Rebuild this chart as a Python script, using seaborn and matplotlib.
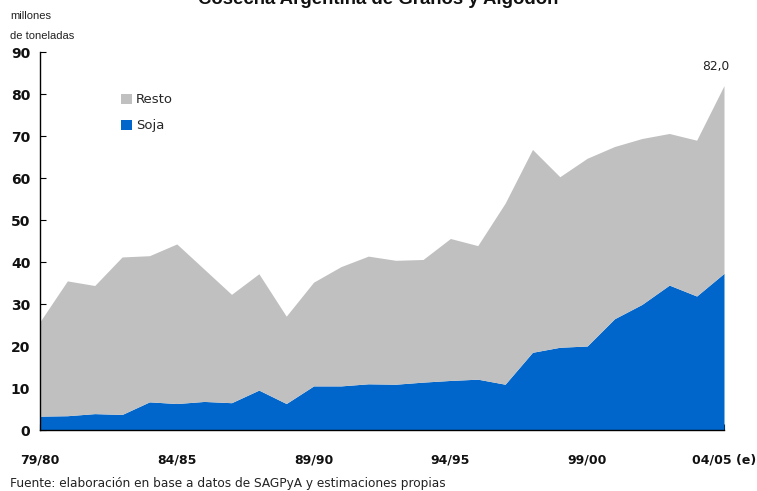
import matplotlib
matplotlib.use("Agg")
import matplotlib.pyplot as plt
from matplotlib.patches import Patch
import seaborn as sns
import pandas as pd

# Argentine harvest, million tonnes per season
seasons = ["79/80", "80/81", "81/82", "82/83", "83/84", "84/85", "85/86", "86/87",
           "87/88", "88/89", "89/90", "90/91", "91/92", "92/93", "93/94", "94/95",
           "95/96", "96/97", "97/98", "98/99", "99/00", "00/01", "01/02", "02/03",
           "03/04", "04/05 (e)"]
total = [25.8, 35.5, 34.4, 41.2, 41.5, 44.3, 38.3, 32.3, 37.2, 27.1, 35.2, 38.9, 41.4,
         40.4, 40.6, 45.6, 43.9, 54.0, 66.8, 60.3, 64.7, 67.5, 69.4, 70.6, 69.0, 82.0]
soja = [3.3, 3.4, 3.9, 3.7, 6.7, 6.3, 6.8, 6.5, 9.5, 6.3, 10.5, 10.5, 11.0, 10.9, 11.4,
        11.8, 12.1, 10.9, 18.5, 19.7, 20.0, 26.5, 29.9, 34.5, 31.9, 37.3]
labelled_seasons = ["79/80", "84/85", "89/90", "94/95", "99/00", "04/05 (e)"]
y_ticks = [0, 10, 20, 30, 40, 50, 60, 70, 80, 90]

df = pd.DataFrame({"campana": seasons, "total": total, "soja": soja})
df["resto"] = df["total"] - df["soja"]
df["pos"] = range(len(df))

sns.set_theme(style="ticks")
plt.rcParams["font.family"] = ["DejaVu Sans"]

blue = "#0066CC"
gray = "#C0C0C0"

fig = plt.figure(figsize=(7.57, 4.91), dpi=100)
ax = fig.add_axes([40 / 757, 1 - 430 / 491, (724 - 40) / 757, (430 - 52) / 491])

ax.stackplot(df["pos"], df["soja"], df["resto"], colors=[blue, gray], linewidth=0)

ax.set_xlim(0, len(df) - 1)
ax.set_ylim(0, 90)
sns.despine(ax=ax)
for side in ("left", "bottom"):
    ax.spines[side].set_color("black")
    ax.spines[side].set_linewidth(1.0)

ax.set_xticks(df["pos"])
ax.set_xticklabels([s if s in labelled_seasons else "" for s in df["campana"]])
ax.set_yticks(y_ticks)
ax.tick_params(axis="x", direction="in", length=4, width=0.8, color="black",
               pad=17, labelsize=9)
ax.tick_params(axis="y", direction="in", length=4, width=0.8, color="black",
               pad=7, labelsize=10)
for lab in ax.get_xticklabels() + ax.get_yticklabels():
    lab.set_fontweight("bold")
    lab.set_color("#111111")
ax.set_xlabel("")
ax.set_ylabel("")

# value of the last season
ax.annotate(f"{df['total'].iloc[-1]:.1f}".replace(".", ","),
            xy=(df["pos"].iloc[-1], df["total"].iloc[-1]),
            xytext=(-6, 9), textcoords="offset points",
            ha="center", va="bottom", fontsize=8.8, color="#222222")

handles = [Patch(facecolor=gray, edgecolor="none", label="Resto"),
           Patch(facecolor=blue, edgecolor="none", label="Soja")]
ax.legend(handles=handles, loc="upper left", bbox_to_anchor=(0.111, 0.905),
          frameon=False, fontsize=9.5, handlelength=0.8, handleheight=0.8,
          handletextpad=0.3, labelspacing=1.0, borderaxespad=0)

fig.text(378 / 757, 1 - 4 / 491, "Cosecha Argentina de Granos y Algodón",
         ha="center", va="baseline", fontsize=13.4, fontweight="bold",
         family=["Liberation Sans"], color="#111111")
fig.text(10 / 757, 1 - 16 / 491, "millones", ha="left", va="center",
         fontsize=8, family=["Liberation Sans"], color="#222222")
fig.text(10 / 757, 1 - 36 / 491, "de toneladas", ha="left", va="center",
         fontsize=8, family=["Liberation Sans"], color="#222222")
fig.text(10 / 757, 1 - 484 / 491,
         "Fuente: elaboración en base a datos de SAGPyA y estimaciones propias",
         ha="left", va="center", fontsize=8.7, color="#222222")

fig.savefig("out.png", dpi=100)
